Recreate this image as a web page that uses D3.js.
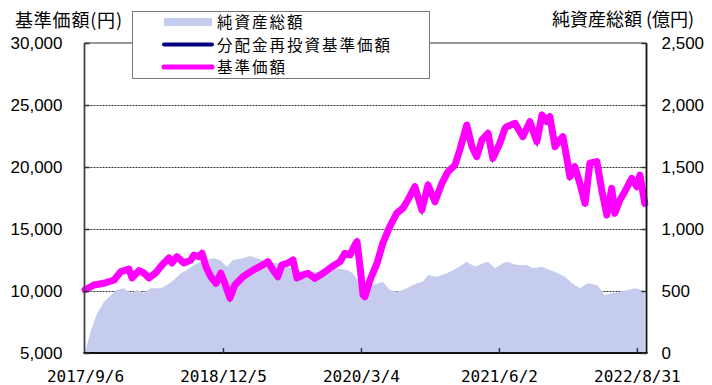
<!DOCTYPE html>
<html><head><meta charset="utf-8">
<script src="https://cdn.jsdelivr.net/npm/d3@7"></script>
<style>
body{margin:0;background:#fff;}
svg{display:block;}
</style></head>
<body>
<svg id="c" width="712" height="385"></svg>
<script>
const priceDates = ["2017-09-06","2017-10-05","2017-11-07","2017-12-11","2018-01-02","2018-01-29","2018-02-08","2018-03-03","2018-03-19","2018-04-05","2018-04-28","2018-05-18","2018-06-10","2018-06-20","2018-07-06","2018-07-29","2018-08-21","2018-08-31","2018-09-17","2018-09-27","2018-10-10","2018-10-26","2018-11-12","2018-11-28","2018-12-11","2018-12-28","2019-01-13","2019-02-09","2019-03-14","2019-04-16","2019-05-02","2019-05-19","2019-06-04","2019-06-17","2019-07-07","2019-07-24","2019-08-06","2019-08-26","2019-09-11","2019-10-04","2019-10-31","2019-11-29","2019-12-26","2020-01-11","2020-01-28","2020-02-13","2020-02-20","2020-03-01","2020-03-11","2020-03-17","2020-04-03","2020-04-26","2020-05-15","2020-06-07","2020-06-30","2020-07-20","2020-08-06","2020-08-29","2020-09-21","2020-10-11","2020-11-03","2020-11-26","2020-12-16","2021-01-08","2021-01-24","2021-02-16","2021-03-05","2021-03-21","2021-04-07","2021-04-27","2021-05-13","2021-06-05","2021-06-22","2021-06-28","2021-07-25","2021-08-20","2021-09-12","2021-10-05","2021-10-22","2021-11-07","2021-11-17","2021-12-04","2021-12-20","2021-12-30","2022-01-12","2022-01-22","2022-02-07","2022-02-24","2022-03-13","2022-03-29","2022-04-21","2022-05-07","2022-05-24","2022-06-09","2022-06-19","2022-07-06","2022-07-22","2022-08-14","2022-08-31","2022-09-10","2022-09-26"];
const priceValues = [10100,10480,10620,10890,11560,11770,11050,11640,11450,11050,11480,12100,12660,12260,12770,12260,12500,12900,12770,13040,11960,11150,10620,11430,10640,9430,10480,11150,11690,12100,12370,11690,11150,12100,12260,12500,11050,11290,11430,11020,11430,11960,12370,13040,12900,13710,13980,11960,9680,9540,10890,12230,13850,15190,16270,16670,17340,18410,16530,18550,17200,18680,19620,20160,21370,23390,21640,20830,22180,22720,20700,21910,23120,23250,23520,22450,23660,22040,24190,23660,24060,21640,22180,22450,20700,19220,20030,18680,17070,20300,20430,18150,16130,18280,16270,17340,18010,19090,18410,19350,17070];
const reinvestValues = priceValues.slice();

const aumDates = ["2017-09-06","2017-09-26","2017-10-16","2017-11-08","2017-12-01","2017-12-20","2018-01-12","2018-02-04","2018-02-24","2018-03-19","2018-04-11","2018-05-14","2018-06-03","2018-06-26","2018-07-19","2018-08-08","2018-08-31","2018-09-23","2018-10-10","2018-11-05","2018-11-25","2018-12-18","2019-01-07","2019-02-09","2019-03-04","2019-03-27","2019-04-29","2019-06-01","2019-07-04","2019-08-06","2019-09-08","2019-10-11","2019-11-13","2019-12-16","2020-01-18","2020-02-06","2020-03-01","2020-03-17","2020-04-12","2020-05-15","2020-06-07","2020-06-30","2020-07-20","2020-08-12","2020-09-04","2020-09-24","2020-10-11","2020-11-09","2020-12-12","2021-01-14","2021-02-16","2021-03-15","2021-04-10","2021-04-27","2021-05-20","2021-06-15","2021-06-28","2021-07-31","2021-09-02","2021-09-22","2021-10-22","2021-11-17","2021-12-14","2022-01-06","2022-01-29","2022-02-24","2022-03-22","2022-04-21","2022-05-17","2022-06-09","2022-07-06","2022-08-01","2022-08-24","2022-09-16","2022-09-26"];
const aumValues = [5,185,320,414,468,508,522,481,508,486,522,522,548,589,643,669,710,736,750,764,750,696,750,764,782,764,736,723,696,669,656,656,669,683,669,643,565,454,548,575,508,494,508,535,562,575,629,615,643,683,736,696,723,736,683,723,736,710,710,683,696,669,643,615,562,522,562,548,468,481,494,508,522,508,500];

const xTickDates = ["2017-09-06","2018-12-05","2020-03-04","2021-06-02","2022-08-31"];
const leftTicks = [5000,10000,15000,20000,25000,30000];
const rightTicks = [0,500,1000,1500,2000,2500];
const legendLabels = ["純資産総額","分配金再投資基準価額","基準価額"];
const leftTitle = "基準価額(円)";
const rightTitle = "純資産総額 (億円)";

const parse = d3.timeParse("%Y-%m-%d");
const svg = d3.select("#c");
const L = 84.5, R = 646.5, T = 43, B = 353;

const x = d3.scaleTime().domain([parse("2017-09-06"), parse("2022-09-30")]).range([85, 646]);
const yL = d3.scaleLinear().domain([5000,30000]).range([B, T]);
const yR = d3.scaleLinear().domain([0,2500]).range([B, T]);

const priceData = priceDates.map((d,i)=>({d:parse(d), v:priceValues[i], r:reinvestValues[i]}));
const aumData = aumDates.map((d,i)=>({d:parse(d), v:aumValues[i]}));

// gridlines
svg.append("g").selectAll("line").data([10000,15000,20000,25000]).join("line")
  .attr("x1", L).attr("x2", R).attr("y1", d=>Math.round(yL(d))+0.5).attr("y2", d=>Math.round(yL(d))+0.5)
  .attr("stroke","#333").attr("stroke-width",1).attr("stroke-dasharray","2,1");

// area
svg.append("path").datum(aumData)
  .attr("d", d3.area().x(d=>x(d.d)).y0(B).y1(d=>yR(d.v)))
  .attr("fill","#c5ccee");

// reinvest line (navy, beneath)
svg.append("path").datum(priceData)
  .attr("d", d3.line().x(d=>x(d.d)).y(d=>yL(d.r)))
  .attr("fill","none").attr("stroke","#000080").attr("stroke-width",3);

// price line (magenta)
svg.append("path").datum(priceData)
  .attr("d", d3.line().x(d=>x(d.d)).y(d=>yL(d.v)))
  .attr("fill","none").attr("stroke","#ff00ff").attr("stroke-width",7).attr("stroke-linejoin","round").attr("stroke-linecap","round");

// frame
svg.append("line").attr("x1",L).attr("x2",R).attr("y1",T).attr("y2",T).attr("stroke","#777").attr("stroke-width",1.5);
svg.append("line").attr("x1",L).attr("x2",L).attr("y1",T).attr("y2",B).attr("stroke","#444").attr("stroke-width",1.8);
svg.append("line").attr("x1",R).attr("x2",R).attr("y1",T).attr("y2",B).attr("stroke","#111").attr("stroke-width",1.8);
svg.append("line").attr("x1",L-1).attr("x2",R+1).attr("y1",B).attr("y2",B).attr("stroke","#111").attr("stroke-width",2);

const numFont = "'Liberation Sans', Arial, sans-serif";
const gl = svg.append("g").attr("transform",`translate(${L},0)`)
  .call(d3.axisLeft(yL).tickValues(leftTicks).tickFormat(d3.format(",")).tickSize(-5).tickPadding(22));
const gr = svg.append("g").attr("transform",`translate(${R},0)`)
  .call(d3.axisRight(yR).tickValues(rightTicks).tickFormat(d3.format(",")).tickSize(-5).tickPadding(15));
const gb = svg.append("g").attr("transform",`translate(0,${B})`)
  .call(d3.axisBottom(x).tickValues(xTickDates.map(parse)).tickFormat(d3.timeFormat("%Y/%-m/%-d")).tickSize(-5).tickPadding(18));
[gl,gr,gb].forEach(g=>{
  g.select(".domain").remove();
  g.selectAll(".tick line").attr("stroke","#333").attr("stroke-width",1.5);
  g.selectAll("text").attr("fill","#000");
});
gl.selectAll("text").style("font-family",numFont).style("font-size","17px");
gr.selectAll("text").style("font-family",numFont).style("font-size","17px");
gb.selectAll("text").style("font-family","'DejaVu Sans Mono', monospace").style("font-size","16px");
gb.selectAll(".tick").filter((d,i)=>i===0).select("line").remove();

// titles
const cjk = "'Noto Sans CJK JP', sans-serif";
svg.append("text").attr("x",15).attr("y",27).text(leftTitle)
  .style("font-family",cjk).style("font-size","18px").style("letter-spacing","0.8px");
svg.append("text").attr("x",552).attr("y",26).text(rightTitle)
  .style("font-family",cjk).style("font-size","18px");

// legend
const lg = svg.append("g");
lg.append("rect").attr("x",132.5).attr("y",11.5).attr("width",297).attr("height",67)
  .attr("fill","#fff").attr("stroke","#777").attr("stroke-width",1);
const legColors = ["#c5ccee","#000080","#ff00ff"];
const legWidths = [8,4,5];
const legY = [22,44.5,67];
legendLabels.forEach((t,i)=>{
  lg.append("line").attr("x1",164).attr("x2",212).attr("y1",legY[i]).attr("y2",legY[i])
    .attr("stroke",legColors[i]).attr("stroke-width",legWidths[i]).attr("stroke-linecap", i===0?"butt":"round");
  lg.append("text").attr("x",217).attr("y",legY[i]+6).text(t)
    .style("font-family",cjk).style("font-size","15.5px").style("letter-spacing","2px");
});
</script>
</body></html>
